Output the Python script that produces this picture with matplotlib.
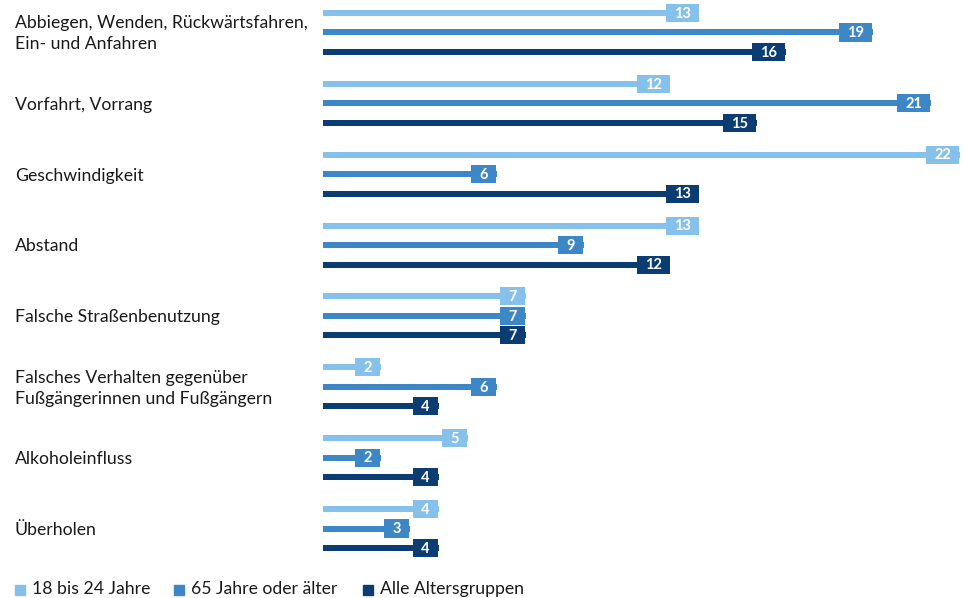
import numpy as np
import matplotlib.pyplot as plt
from matplotlib.transforms import blended_transform_factory

categories = [
    "Abbiegen, Wenden, Rückwärtsfahren,\nEin- und Anfahren",
    "Vorfahrt, Vorrang",
    "Geschwindigkeit",
    "Abstand",
    "Falsche Straßenbenutzung",
    "Falsches Verhalten gegenüber\nFußgängerinnen und Fußgängern",
    "Alkoholeinfluss",
    "Überholen",
]
series_names = ["18 bis 24 Jahre", "65 Jahre oder älter", "Alle Altersgruppen"]
young = [13, 12, 22, 13, 7, 2, 5, 4]
senior = [19, 21, 6, 9, 7, 6, 2, 3]
total = [16, 15, 13, 12, 7, 4, 4, 4]

colors = ["#85c1ea", "#3e87c7", "#0b3d73"]
plt.rcParams['font.family'] = ['Lato', 'DejaVu Sans']

W, H = 967, 598
fig = plt.figure(figsize=(W / 100, H / 100), dpi=100)
x0, x1 = 323, 960
y_top, y_bot = 13, 548
ax = fig.add_axes([x0 / W, 1 - (y_bot + 9) / H, (x1 - x0) / W, (y_bot - y_top + 18) / H])
ax.set_xlim(0, 22)
n = len(categories)
ax.set_ylim(n - 1 + 0.275 + 9 / 71, -0.275 - 9 / 71)
ax.axis('off')

px_per_unit = (x1 - x0) / 22
offsets = [-0.275, 0, 0.275]
y = np.arange(n)
for vals, off, c in zip([young, senior, total], offsets, colors):
    ax.barh(y + off, vals, height=0.085, color=c)
    for yi, v in zip(y, vals):
        bw = (17 + 8 * len(str(v))) / px_per_unit
        ax.barh(yi + off, bw, left=v - bw - 0.03, height=0.255, color=c)
        ax.text(v - 0.03 - bw / 2, yi + off + 0.01, str(v), ha='center', va='center',
                color='white', fontsize=10.5, fontweight='bold')

trans = blended_transform_factory(fig.transFigure, ax.transData)
for yi, cat in zip(y, categories):
    ax.text(15 / W, yi + 0.02, cat, transform=trans, ha='left', va='center',
            fontsize=12.7, color='#1a1a1a', linespacing=1.38)

# legend
lx = [15, 174, 363]
for xx, name, c in zip(lx, series_names, colors):
    fig.patches.append(plt.Rectangle((xx / W, 1 - 595 / H), 10 / W, 10 / H,
                                     transform=fig.transFigure, color=c))
    fig.text((xx + 17) / W, 1 - 589 / H, name, ha='left', va='center',
             fontsize=12.7, color='#1a1a1a')

fig.savefig('out.png', dpi=100)
